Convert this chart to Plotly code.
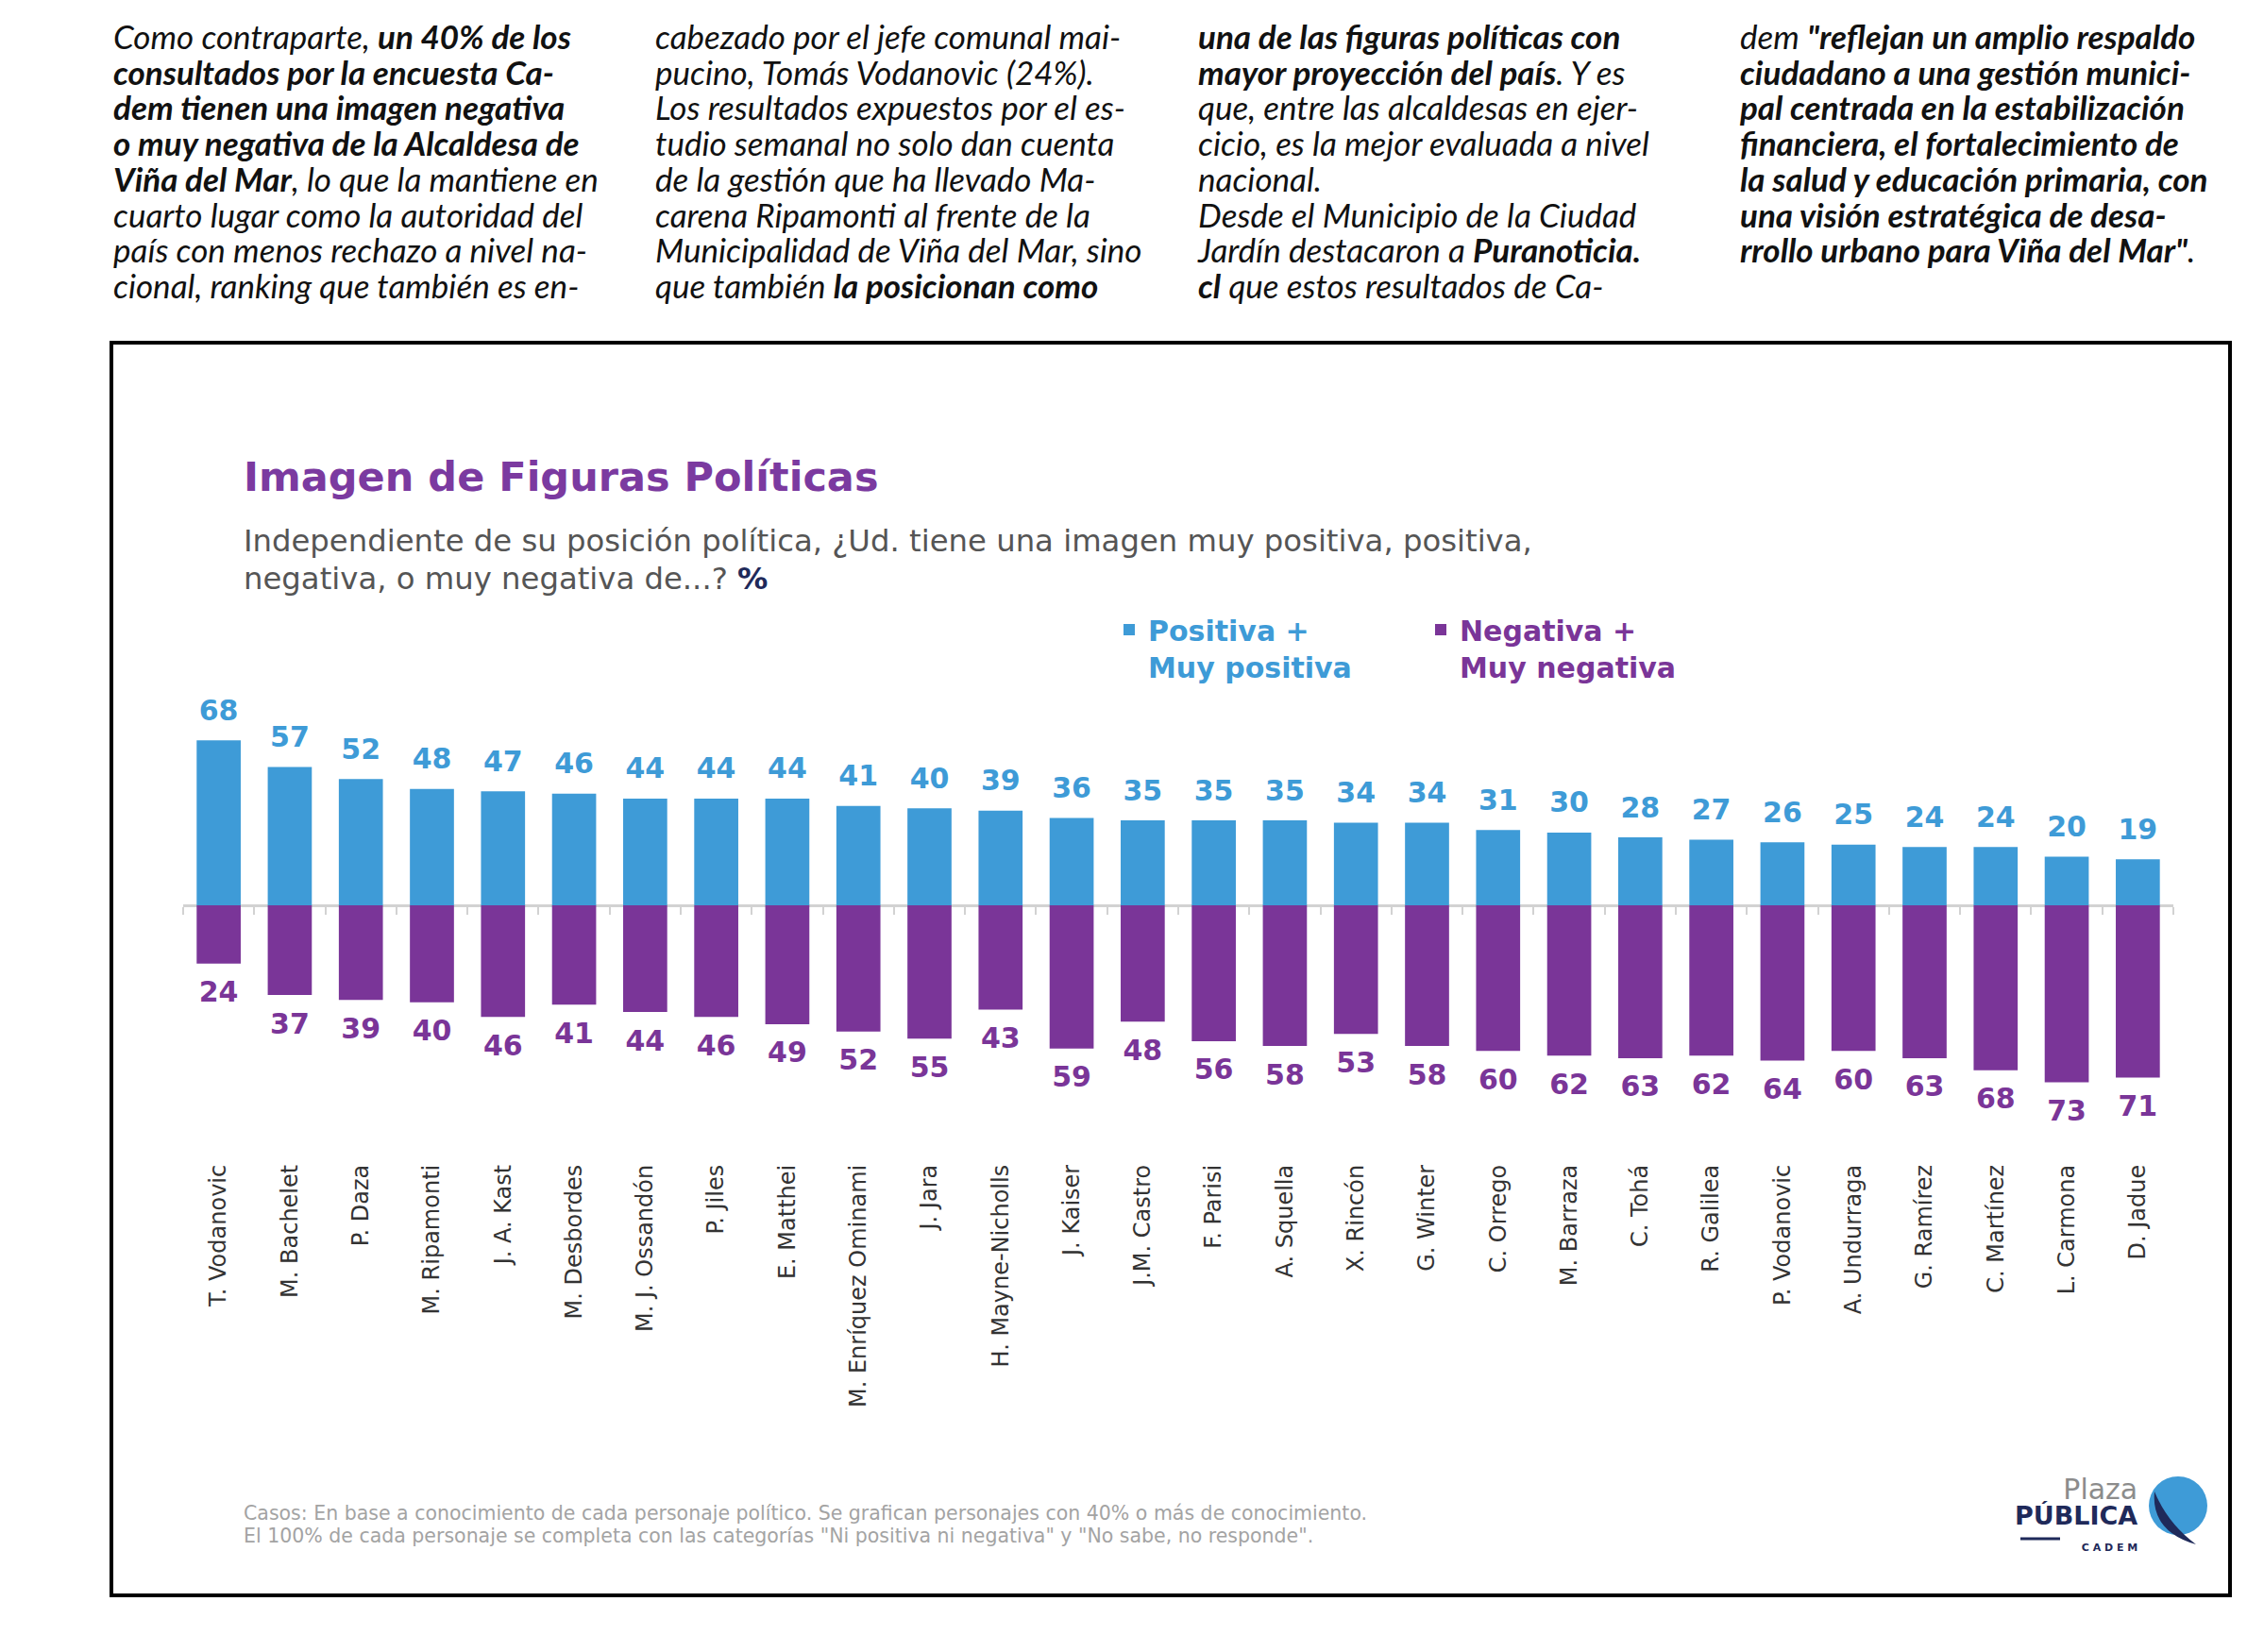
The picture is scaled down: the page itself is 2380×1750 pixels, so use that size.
import plotly.graph_objects as go

# ---------------- data ----------------
names = ["T. Vodanovic", "M. Bachelet", "P. Daza", "M. Ripamonti", "J. A. Kast",
         "M. Desbordes", "M. J. Ossandón", "P. Jiles", "E. Matthei", "M. Enríquez Ominami",
         "J. Jara", "H. Mayne-Nicholls", "J. Kaiser", "J.M. Castro", "F. Parisi",
         "A. Squella", "X. Rincón", "G. Winter", "C. Orrego", "M. Barraza",
         "C. Tohá", "R. Galilea", "P. Vodanovic", "A. Undurraga", "G. Ramírez",
         "C. Martínez", "L. Carmona", "D. Jadue"]
positiva = [68, 57, 52, 48, 47, 46, 44, 44, 44, 41, 40, 39, 36, 35, 35, 35, 34, 34,
            31, 30, 28, 27, 26, 25, 24, 24, 20, 19]
negativa = [24, 37, 39, 40, 46, 41, 44, 46, 49, 52, 55, 43, 59, 48, 56, 58, 53, 58,
            60, 62, 63, 62, 64, 60, 63, 68, 73, 71]

title_text = "Imagen de Figuras Políticas"
subtitle_lines = ["Independiente de su posición política, ¿Ud. tiene una imagen muy positiva, positiva,",
                  "negativa, o muy negativa de...? <b><span style='color:#1F2A5A'>%</span></b>"]
legend_pos = ["Positiva +", "Muy positiva"]
legend_neg = ["Negativa +", "Muy negativa"]
footer_lines = ["Casos: En base a conocimiento de cada personaje político. Se grafican personajes con 40% o más de conocimiento.",
                "El 100% de cada personaje se completa con las categorías \"Ni positiva ni negativa\" y \"No sabe, no responde\"."]
logo_lines = ["Plaza", "PÚBLICA", "C A D E M"]

news_cols = [
    ["Como contraparte, <b>un 40% de los</b>",
     "<b>consultados por la encuesta Ca-</b>",
     "<b>dem tienen una imagen negativa</b>",
     "<b>o muy negativa de la Alcaldesa de</b>",
     "<b>Viña del Mar</b>, lo que la mantiene en",
     "cuarto lugar como la autoridad del",
     "país con menos rechazo a nivel na-",
     "cional, ranking que también es en-"],
    ["cabezado por el jefe comunal mai-",
     "pucino, Tomás Vodanovic (24%).",
     "Los resultados expuestos por el es-",
     "tudio semanal no solo dan cuenta",
     "de la gestión que ha llevado Ma-",
     "carena Ripamonti al frente de la",
     "Municipalidad de Viña del Mar, sino",
     "que también <b>la posicionan como</b>"],
    ["<b>una de las figuras políticas con</b>",
     "<b>mayor proyección del país</b>. Y es",
     "que, entre las alcaldesas en ejer-",
     "cicio, es la mejor evaluada a nivel",
     "nacional.",
     "Desde el Municipio de la Ciudad",
     "Jardín destacaron a <b>Puranoticia.</b>",
     "<b>cl</b> que estos resultados de Ca-"],
    ["dem <b>\"reflejan un amplio respaldo</b>",
     "<b>ciudadano a una gestión munici-</b>",
     "<b>pal centrada en la estabilización</b>",
     "<b>financiera, el fortalecimiento de</b>",
     "<b>la salud y educación primaria, con</b>",
     "<b>una visión estratégica de desa-</b>",
     "<b>rrollo urbano para Viña del Mar\"</b>."],
]

# ---------------- style / layout constants ----------------
W, H = 2380, 1750
BLUE = "#3E9BD7"
PURPLE = "#7A3598"
NAVY = "#1F2A5A"
ML, MR, MT, MB = 194, 78, 740, 522
PX_PER_UNIT = 2.57
ZERO_PX = 959
YMAX = (ZERO_PX - MT) / PX_PER_UNIT
YMIN = -(H - MB - ZERO_PX) / PX_PER_UNIT
POS_OFF = 29 / PX_PER_UNIT
NEG_OFF = 33 / PX_PER_UNIT
NEWS_BASE = 29          # sets the line pitch (1.3 x base)
NEWS_GLYPH = 35         # actual glyph size
NEWS_LH = 1.3 * NEWS_BASE


def px_x(px):
    return (px - ML) / (W - ML - MR)


def px_y(py):
    return (H - MB - py) / (H - MT - MB)


def legend_name(lines, color):
    return "<br>".join("<span style='color:%s'>%s</span>" % (color, s) for s in lines)


fig = go.Figure()
fig.add_bar(x=names, y=positiva, name=legend_name(legend_pos, BLUE),
            marker=dict(color=BLUE, line=dict(width=0)), width=0.62, hoverinfo="x+y")
fig.add_bar(x=names, y=[-v for v in negativa], name=legend_name(legend_neg, PURPLE),
            marker=dict(color=PURPLE, line=dict(width=0)), width=0.62,
            customdata=negativa, hovertemplate="%{x}: %{customdata}<extra></extra>")

idx = list(range(len(names)))
fig.add_scatter(x=idx, y=[v + POS_OFF for v in positiva], xaxis="x2", mode="text",
                text=[str(v) for v in positiva], textposition="middle center",
                textfont=dict(family="DejaVu Sans", size=30, color=BLUE, weight="bold"),
                showlegend=False, cliponaxis=False, hoverinfo="skip")
fig.add_scatter(x=idx, y=[-(v + NEG_OFF) for v in negativa], xaxis="x2", mode="text",
                text=[str(v) for v in negativa], textposition="middle center",
                textfont=dict(family="DejaVu Sans", size=30, color=PURPLE, weight="bold"),
                showlegend=False, cliponaxis=False, hoverinfo="skip")

n = len(names)
ann = []
# news columns (one text block per column)
col_left = [118, 692, 1266, 1840]
for ci, col in enumerate(news_cols):
    first_center = 38
    mid = first_center + (len(col) - 1) * NEWS_LH / 2
    ann.append(dict(xref="paper", yref="paper", x=px_x(col_left[ci]), y=px_y(mid),
                    xanchor="left", yanchor="middle", align="left", showarrow=False,
                    text="<br>".join("<span style='font-size:%dpx'><i>%s</i></span>" % (NEWS_GLYPH, line)
                                     for line in col),
                    font=dict(family="Lato", size=NEWS_BASE, color="#111111")))
# title / subtitle
ann.append(dict(xref="paper", yref="paper", x=px_x(256), y=px_y(505), xanchor="left", yanchor="middle",
                showarrow=False, text="<b>" + title_text + "</b>",
                font=dict(family="DejaVu Sans", size=43, color="#7B3AA0")))
for i, s in enumerate(subtitle_lines):
    ann.append(dict(xref="paper", yref="paper", x=px_x(256), y=px_y(573 + 40 * i), xanchor="left",
                    yanchor="middle", showarrow=False, text=s,
                    font=dict(family="DejaVu Sans", size=32.3, color="#555555")))
# footer
for i, s in enumerate(footer_lines):
    ann.append(dict(xref="paper", yref="paper", x=px_x(256), y=px_y(1603 + 24 * i), xanchor="left",
                    yanchor="middle", showarrow=False, text=s,
                    font=dict(family="DejaVu Sans", size=20.5, color="#A3A3A3")))
# logo text block
logo_text = ("<span style='font-size:30px;color:#8C8C8C'>%s</span><br>"
             "<b><span style='font-size:27px;color:%s'>%s</span></b><br>"
             "<b><span style='font-size:11px;color:%s'>%s</span></b>") % (
    logo_lines[0], NAVY, logo_lines[1], NAVY, logo_lines[2])
ann.append(dict(xref="paper", yref="paper", x=px_x(2266), y=px_y(1603), xanchor="right", yanchor="middle",
                align="right", showarrow=False, text=logo_text,
                font=dict(family="DejaVu Sans", size=21, color=NAVY)))

shapes = [
    dict(type="rect", xref="paper", yref="paper", x0=px_x(118), x1=px_x(2362), y0=px_y(1690), y1=px_y(363),
         line=dict(color="#000000", width=4), fillcolor="rgba(0,0,0,0)", layer="above"),
    dict(type="line", xref="paper", yref="paper", x0=px_x(2140), x1=px_x(2182), y0=px_y(1630), y1=px_y(1630),
         line=dict(color=NAVY, width=3)),
    dict(type="circle", xref="paper", yref="paper", x0=px_x(2276), x1=px_x(2338), y0=px_y(1626), y1=px_y(1564),
         line=dict(width=0), fillcolor=BLUE),
    dict(type="path", xref="paper", yref="paper",
         path="M %f %f Q %f %f %f %f Q %f %f %f %f Z" % (
             px_x(2282), px_y(1580), px_x(2278), px_y(1622), px_x(2326), px_y(1636),
             px_x(2296), px_y(1614), px_x(2282), px_y(1580)),
         line=dict(width=0), fillcolor=NAVY),
]

fig.update_layout(
    width=W, height=H,
    margin=dict(l=ML, r=MR, t=MT, b=MB, pad=0),
    paper_bgcolor="white", plot_bgcolor="white",
    barmode="relative",
    showlegend=True,
    legend=dict(orientation="h", x=px_x(1176), y=px_y(641), xanchor="left", yanchor="top",
                entrywidth=285, entrywidthmode="pixels", valign="top",
                font=dict(family="DejaVu Sans", size=30, weight="bold"),
                bgcolor="rgba(0,0,0,0)", traceorder="normal"),
    xaxis=dict(type="category", range=[-0.5, n - 0.5], tickangle=-90, showline=False, ticks="",
               showgrid=False, zeroline=False,
               tickfont=dict(family="DejaVu Sans", size=24, color="#333333")),
    xaxis2=dict(overlaying="x", anchor="free", position=(0 - YMIN) / (YMAX - YMIN), side="bottom",
                range=[-0.5, n - 0.5], showline=True, linecolor="#D2D2D2", linewidth=3,
                ticks="outside", ticklen=8, tickwidth=2, tickcolor="#D2D2D2",
                tickvals=[i - 0.5 for i in range(n + 1)], showticklabels=False,
                showgrid=False, zeroline=False, layer="below traces"),
    yaxis=dict(range=[YMIN, YMAX], visible=False, showgrid=False, zeroline=False),
    annotations=ann,
    shapes=shapes,
)

fig.write_html("out.html", config={"displayModeBar": False},
               post_script="document.body.style.margin='0px';")
